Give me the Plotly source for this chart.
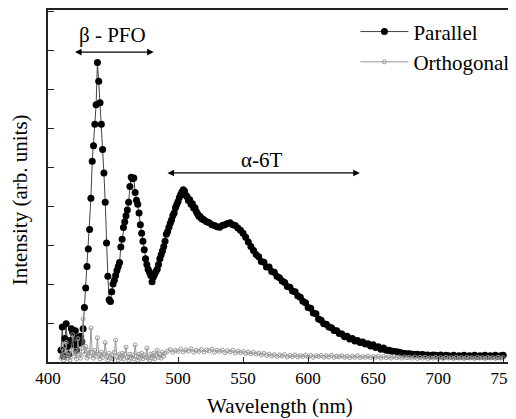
import plotly.graph_objects as go

# ---------------- data ----------------
# Parallel polarisation, 410-520 nm every 1 nm
par_wl_a = list(range(410, 521))
par_a = [
    0.30, 0.90, 0.15, 0.60, 0.98, 0.40, 0.20, 0.55, 0.85, 0.75,
    0.45, 0.80, 0.30, 0.62, 0.48, 0.66, 0.52, 0.85, 1.40, 1.90,
    2.45, 2.90, 3.40, 4.20, 5.15, 5.55, 6.10, 6.60, 7.68, 7.20,
    6.65, 6.10, 5.45, 4.85, 4.10, 3.05, 2.20, 1.60, 1.55, 1.80,
    2.00, 2.10, 2.22, 2.35, 2.45, 2.55, 2.95, 3.15, 3.45, 3.60,
    3.75, 3.90, 4.10, 4.50, 4.74, 4.70, 4.72, 4.35, 4.15, 4.05,
    3.82, 3.52, 3.30, 3.10, 2.88, 2.65, 2.50, 2.38, 2.30, 2.22,
    2.06, 2.18, 2.25, 2.32, 2.38, 2.50, 2.65, 2.75, 2.85, 2.96,
    3.10, 3.28, 3.35, 3.46, 3.56, 3.64, 3.76, 3.82, 3.96, 4.04,
    4.12, 4.22, 4.30, 4.36, 4.42, 4.38, 4.28, 4.24, 4.14, 4.16,
    4.05, 4.06, 3.95, 3.96, 3.86, 3.80, 3.74, 3.73, 3.68, 3.66,
    3.64,
]
# Parallel, 522-750 nm every 2 nm
par_wl_b = list(range(522, 751, 2))
par_b = [
    3.60, 3.57, 3.52, 3.50, 3.47, 3.46, 3.50, 3.52, 3.55, 3.57,
    3.52, 3.50, 3.44, 3.38, 3.30, 3.20, 3.08, 2.96, 2.86, 2.76,
    2.70, 2.58, 2.56, 2.44, 2.44, 2.32, 2.30, 2.20, 2.16, 2.08,
    2.04, 1.94, 1.92, 1.82, 1.80, 1.70, 1.66, 1.56, 1.52, 1.40,
    1.38, 1.26, 1.24, 1.10, 1.07, 0.98, 0.97, 0.90, 0.88, 0.81,
    0.80, 0.73, 0.72, 0.65, 0.66, 0.59, 0.60, 0.54, 0.55, 0.50,
    0.51, 0.46, 0.47, 0.41, 0.44, 0.37, 0.39, 0.33, 0.36, 0.30,
    0.30, 0.28, 0.27, 0.26, 0.25, 0.23, 0.22, 0.21, 0.21, 0.20,
    0.19, 0.20, 0.18, 0.19, 0.17, 0.18, 0.16, 0.18, 0.17, 0.16,
    0.18, 0.15, 0.17, 0.16, 0.15, 0.17, 0.14, 0.16, 0.15, 0.17,
    0.14, 0.16, 0.15, 0.17, 0.14, 0.16, 0.15, 0.17, 0.14, 0.16,
    0.15, 0.17, 0.14, 0.16, 0.17,
]

# Orthogonal polarisation, 410-490 nm every 1 nm
ort_wl_a = list(range(410, 491))
ort_a = [
    0.10, 0.35, 0.05, 0.20, 0.50, 0.10, 0.25, 0.05, 0.30, 0.70,
    0.15, 0.30, 0.08, 0.60, 0.20, 0.10, 0.35, 1.10, 0.20, 0.40,
    0.10, 0.30, 0.15, 0.87, 0.25, 0.10, 0.30, 0.15, 0.62, 0.20,
    0.08, 0.25, 0.12, 0.20, 0.50, 0.15, 0.05, 0.22, 0.10, 0.18,
    0.08, 0.25, 0.56, 0.15, 0.05, 0.20, 0.10, 0.22, 0.08, 0.20,
    0.38, 0.12, 0.05, 0.20, 0.10, 0.18, 0.08, 0.44, 0.15, 0.05,
    0.20, 0.10, 0.22, 0.08, 0.18, 0.12, 0.36, 0.10, 0.05, 0.20,
    0.10, 0.22, 0.08, 0.18, 0.30, 0.12, 0.20, 0.10, 0.25, 0.15,
    0.22,
]
# Orthogonal, 492-750 nm every 2 nm
ort_wl_b = list(range(492, 751, 2))
ort_b = [
    0.28, 0.32, 0.25, 0.30, 0.27, 0.33, 0.26, 0.31, 0.28, 0.34,
    0.25, 0.30, 0.27, 0.32, 0.26, 0.31, 0.28, 0.33, 0.25, 0.30,
    0.27, 0.31, 0.24, 0.29, 0.26, 0.30, 0.23, 0.28, 0.24, 0.27,
    0.22, 0.26, 0.21, 0.25, 0.20, 0.23, 0.18, 0.22, 0.17, 0.20,
    0.15, 0.19, 0.14, 0.18, 0.15, 0.19, 0.13, 0.17, 0.14, 0.18,
    0.13, 0.16, 0.14, 0.18, 0.13, 0.17, 0.12, 0.16, 0.14, 0.17,
    0.12, 0.16, 0.13, 0.17, 0.12, 0.15, 0.13, 0.16, 0.12, 0.15,
    0.11, 0.15, 0.12, 0.16, 0.11, 0.14, 0.12, 0.15, 0.11, 0.14,
    0.12, 0.15, 0.10, 0.14, 0.11, 0.13, 0.10, 0.14, 0.11, 0.13,
    0.10, 0.13, 0.11, 0.12, 0.10, 0.13, 0.09, 0.12, 0.10, 0.12,
    0.09, 0.11, 0.10, 0.12, 0.09, 0.11, 0.09, 0.12, 0.10, 0.11,
    0.09, 0.12, 0.10, 0.11, 0.09, 0.12, 0.10, 0.11, 0.09, 0.12,
    0.10, 0.11, 0.09, 0.12, 0.10, 0.11, 0.09, 0.12, 0.10, 0.11,
]

x_ticks = [400, 450, 500, 550, 600, 650, 700, 750]
series_names = ["Parallel", "Orthogonal"]
band_labels = ["β - PFO", "α-6T"]
band_ranges = [(419.6, 481.3), (490.7, 639.8)]
band_levels = [7.95, 4.85]
label_pos = [(449.7, 8.38), (563.8, 5.18)]

FONT = "Liberation Serif"

fig = go.Figure()
fig.add_trace(go.Scatter(
    x=par_wl_a + par_wl_b, y=par_a + par_b, name=series_names[0],
    mode="lines+markers",
    line=dict(color="#444444", width=1),
    marker=dict(symbol="circle", size=7, color="black"),
))
fig.add_trace(go.Scatter(
    x=ort_wl_a + ort_wl_b, y=ort_a + ort_b, name=series_names[1],
    mode="lines+markers",
    line=dict(color="#8c8c8c", width=0.9),
    marker=dict(symbol="circle-open", size=4, color="#9a9a9a", line=dict(width=1)),
))

annotations = []
for (x0, x1), yl in zip(band_ranges, band_levels):
    annotations.append(dict(
        x=x1, y=yl, ax=x0, ay=yl, xref="x", yref="y", axref="x", ayref="y",
        text="", showarrow=True, arrowhead=2, arrowside="end+start",
        arrowsize=1.1, arrowwidth=1.2, arrowcolor="black",
    ))
for txt, (xp, yp) in zip(band_labels, label_pos):
    annotations.append(dict(
        x=xp, y=yp, xref="x", yref="y", text=txt, showarrow=False,
        font=dict(family=FONT, size=21, color="black"),
        xanchor="center", yanchor="middle",
    ))
# axis titles
annotations.append(dict(
    x=0.5, y=-0.124, xref="paper", yref="paper", text="Wavelength (nm)",
    showarrow=False, font=dict(family=FONT, size=21, color="black"),
    xanchor="center", yanchor="middle",
))
annotations.append(dict(
    x=-0.06, y=0.46, xref="paper", yref="paper", text="Intensity (arb. units)",
    showarrow=False, textangle=-90, font=dict(family=FONT, size=21, color="black"),
    xanchor="center", yanchor="middle",
))

# the page body adds an 8 px offset, so the figure is 8 px smaller
fig.update_layout(
    width=508, height=411,
    margin=dict(l=40, r=0, t=2, b=57),
    paper_bgcolor="white", plot_bgcolor="white",
    showlegend=True,
    legend=dict(
        x=0.664, y=0.996, xanchor="left", yanchor="top",
        font=dict(family=FONT, size=21, color="black"),
        bgcolor="rgba(0,0,0,0)", itemwidth=48, tracegroupgap=0,
    ),
    annotations=annotations,
)
fig.update_xaxes(
    range=[400, 756], tickvals=x_ticks, ticks="inside", ticklen=5,
    tickcolor="#222", linecolor="#222", linewidth=1.5, mirror=True,
    showgrid=False, zeroline=False, ticklabeloverflow="allow",
    tickfont=dict(family=FONT, size=17, color="black"),
)
fig.update_yaxes(
    range=[0, 9.03], dtick=1, tick0=0, ticks="inside", ticklen=6,
    tickcolor="#222", linecolor="#222", linewidth=1.5,
    showgrid=False, zeroline=False, showticklabels=False,
)

fig.write_html("out.html")
